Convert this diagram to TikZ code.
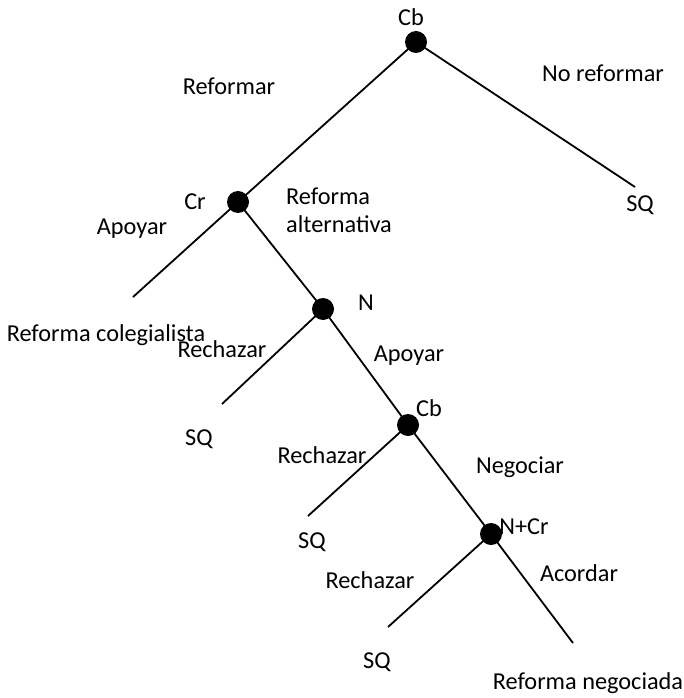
\documentclass[tikz,border=0pt]{standalone}
\usepackage{fontspec}
\setmainfont{Carlito}
\begin{document}
\begin{tikzpicture}[x=1pt,y=-1pt,
  dec/.style={circle,fill=black,inner sep=0pt,minimum size=22pt},
  edge/.style={line width=1.8pt},
  lbl/.style={inner sep=0pt,font=\fontsize{24.3}{28}\selectfont}]
\useasboundingbox (0,0) rectangle (684,698);
% decision nodes
\node[dec] (cb1) at (416,42) {};
\node[dec] (cr) at (238,202) {};
\node[dec] (n) at (323,309) {};
\node[dec] (cb2) at (408,425) {};
\node[dec] (ncr) at (491,534) {};
% terminal points
\coordinate (sq1) at (635,187);
\coordinate (col) at (133,297);
\coordinate (sq2) at (222,404);
\coordinate (sq3) at (308,516);
\coordinate (sq4) at (388,627);
\coordinate (neg) at (573,643);
% edges
\draw[edge] (cb1.center) -- (sq1);
\draw[edge] (cb1.center) -- (cr.center);
\draw[edge] (cr.center) -- (col);
\draw[edge] (cr.center) -- (n.center);
\draw[edge] (n.center) -- (sq2);
\draw[edge] (n.center) -- (cb2.center);
\draw[edge] (cb2.center) -- (sq3);
\draw[edge] (cb2.center) -- (ncr.center);
\draw[edge] (ncr.center) -- (sq4);
\draw[edge] (ncr.center) -- (neg);
% labels
\node[lbl] (tcb1) at (411,17) {Cb};
\node[lbl] (tnoref) at (603,73) {No reformar};
\node[lbl] (tsq1) at (640,205) {SQ};
\node[lbl] (tref) at (229,86) {Reformar};
\node[lbl] (tcr) at (195,202) {Cr};
\node[lbl,anchor=west,align=left] (talt) at (286,210) {Reforma\\alternativa};
\node[lbl] (tapo1) at (132,229) {Apoyar};
\node[lbl] (tcol) at (106,335) {Reforma colegialista};
\node[lbl] (trech1) at (222,349) {Rechazar};
\node[lbl] (tn) at (366,303) {N};
\node[lbl] (tsq2) at (199,439) {SQ};
\node[lbl] (tapo2) at (409,356) {Apoyar};
\node[lbl] (tcb2) at (429,408) {Cb};
\node[lbl] (trech2) at (322,455) {Rechazar};
\node[lbl] (tsq3) at (312,542) {SQ};
\node[lbl] (tnegoc) at (520,467) {Negociar};
\node[lbl] (tncr) at (524,527) {N+Cr};
\node[lbl] (tacor) at (579,573) {Acordar};
\node[lbl] (trech3) at (370,580) {Rechazar};
\node[lbl] (tsq4) at (377,662) {SQ};
\node[lbl] (tneg) at (588,683) {Reforma negociada};
\end{tikzpicture}
\end{document}
